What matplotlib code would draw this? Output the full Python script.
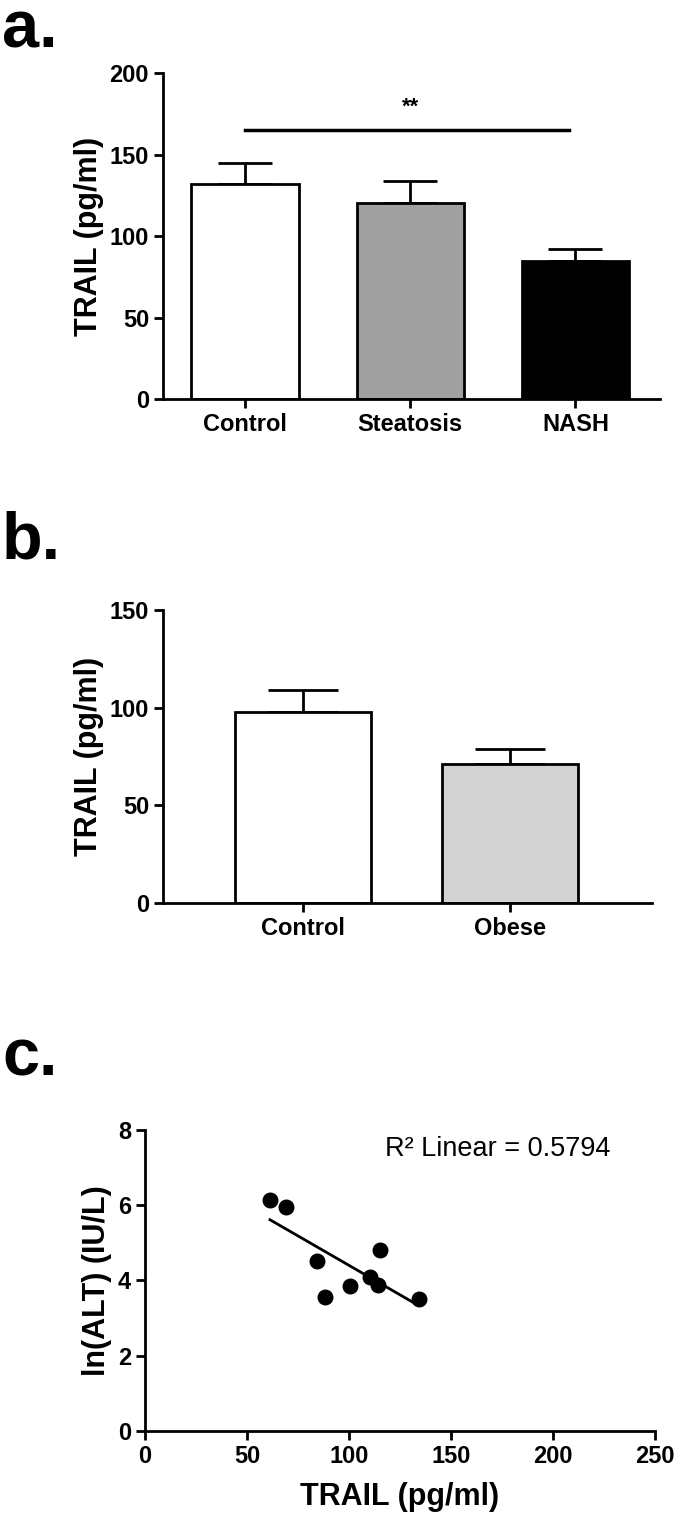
import numpy as np
import matplotlib
matplotlib.use("Agg")
import matplotlib.pyplot as plt

# panel a: liver histology groups
groups_a = ["Control", "Steatosis", "NASH"]
means_a = [132, 120, 85]
sem_a = [13, 14, 7]
colors_a = ["white", "#a0a0a0", "black"]

# panel b: obesity
groups_b = ["Control", "Obese"]
means_b = [98, 71]
sem_b = [11, 8]
colors_b = ["white", "#d3d3d3"]

# panel c: TRAIL vs ln(ALT)
trail_c = [61.3, 69.1, 84.5, 88.3, 100.6, 110.2, 114.5, 115.1, 134.5]
ln_alt_c = [6.14, 5.94, 4.52, 3.57, 3.85, 4.10, 3.87, 4.80, 3.51]
r2_text = "R\u00b2 Linear = 0.5794"

plt.rcParams['font.family'] = ['Liberation Sans', 'DejaVu Sans']
plt.rcParams['font.weight'] = 'bold'

LW = 2.0
TICK_FS = 17
LABEL_FS = 22
LETTER_FS = 48


def style_axes(ax):
    for s in ["top", "right"]:
        ax.spines[s].set_visible(False)
    for s in ["left", "bottom"]:
        ax.spines[s].set_linewidth(LW)
    ax.tick_params(width=LW, length=6.5, labelsize=TICK_FS, direction="out")
    for lab in ax.get_xticklabels() + ax.get_yticklabels():
        lab.set_fontweight("bold")


fig = plt.figure(figsize=(6.75, 15.35), dpi=100)

# ---- a ----
ax = fig.add_axes([0.2415, 0.740, 0.737, 0.2124])
x = np.arange(len(groups_a))
ax.bar(x, means_a, width=0.65, color=colors_a, edgecolor="black", linewidth=LW, zorder=2)
ax.errorbar(x, means_a, yerr=[np.zeros(len(sem_a)), sem_a], fmt="none",
            ecolor="black", elinewidth=LW, capsize=19.5, capthick=LW, zorder=1)
ax.plot([x[0], x[2] - 0.04], [165, 165], color="black", lw=2.5)
ax.text((x[0] + x[2]) / 2, 179, "**", ha="center", va="center", fontsize=16, fontweight="bold")
ax.set_xlim(-0.497, 2.515)
ax.set_ylim(0, 200)
ax.set_yticks([0, 50, 100, 150, 200])
ax.set_xticks(x)
ax.set_xticklabels(groups_a)
ax.set_ylabel("TRAIL (pg/ml)", fontsize=LABEL_FS, fontweight="bold")
style_axes(ax)
fig.text(0.003, 1 - 47 / 1535, "a.", fontsize=LETTER_FS, fontweight="bold", va="baseline", ha="left")

# ---- b ----
ax = fig.add_axes([0.2415, 0.4117, 0.7245, 0.1909])
x = np.arange(len(groups_b))
ax.bar(x, means_b, width=0.657, color=colors_b, edgecolor="black", linewidth=LW, zorder=2)
ax.errorbar(x, means_b, yerr=[np.zeros(len(sem_b)), sem_b], fmt="none",
            ecolor="black", elinewidth=LW, capsize=25, capthick=LW, zorder=1)
ax.set_xlim(-0.676, 1.686)
ax.set_ylim(0, 150)
ax.set_yticks([0, 50, 100, 150])
ax.set_xticks(x)
ax.set_xticklabels(groups_b)
ax.set_ylabel("TRAIL (pg/ml)", fontsize=LABEL_FS, fontweight="bold")
style_axes(ax)
fig.text(0.003, 1 - 558 / 1535, "b.", fontsize=LETTER_FS, fontweight="bold", va="baseline", ha="left")

# ---- c ----
ax = fig.add_axes([0.2148, 0.0678, 0.7552, 0.1961])
ax.scatter(trail_c, ln_alt_c, s=110, color="black", zorder=3)
slope, icpt = np.polyfit(trail_c, ln_alt_c, 1)
xx = np.array([min(trail_c), 132])
ax.plot(xx, slope * xx + icpt, color="black", lw=2)
ax.text(0.47, 0.935, r2_text, transform=ax.transAxes, fontsize=19.5, fontweight="normal",
        va="center", ha="left")
ax.set_xlim(0, 250)
ax.set_ylim(0, 8)
ax.set_xticks([0, 50, 100, 150, 200, 250])
ax.set_yticks([0, 2, 4, 6, 8])
ax.set_xlabel("TRAIL (pg/ml)", fontsize=LABEL_FS, fontweight="bold", labelpad=10)
ax.set_ylabel("ln(ALT) (IU/L)", fontsize=LABEL_FS, fontweight="bold")
style_axes(ax)
fig.text(0.003, 1 - 1075 / 1535, "c.", fontsize=LETTER_FS, fontweight="bold", va="baseline", ha="left")

fig.savefig("out.png", dpi=100)
